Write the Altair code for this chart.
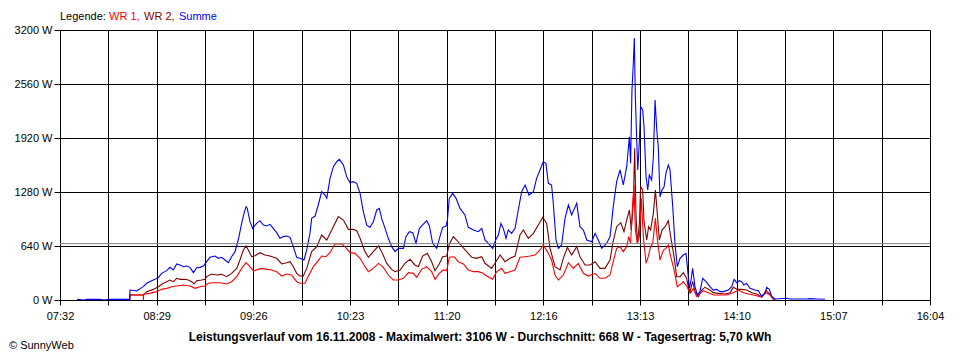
import json
import altair as alt
import pandas as pd

# ---------------- data (time in minutes after midnight, power in W) ----------------
SUMME = [(462,8),(466,0),(468,8),(475,8),(478,0),(481,8),(490.3,8),(493.0,8),(493.2,118),(497.1,107),(501.0,158),(503.0,198),(506.9,237),(509.9,265),(511.8,316),(514.8,348),(516.7,387),(518.7,356),(520.7,427),(522.6,415),(524.6,395),(526.5,403),(528.5,387),(530.5,324),(532.4,383),(534.4,387),(536.4,403),(538.3,454),(540.3,506),(543.2,521),(545.2,494),(547.1,506),(549.1,474),(551.1,442),(553.0,513),(555.0,573),(556.9,711),(558.9,908),(560.3,1027),(561.5,1106),(562.2,1086),(563.8,928),(565.4,849),(567.7,908),(569.7,940),(571.7,889),(573.6,877),(575.6,897),(577.5,849),(579.5,798),(581.5,731),(583.4,751),(585.4,758),(587.4,743),(589.3,632),(591.3,506),(593.2,494),(595.6,474),(597.2,593),(599.1,790),(600.1,968),(602.1,995),(604.0,1126),(606.0,1284),(608.0,1244),(609.0,1205),(610.9,1442),(612.9,1580),(614.8,1639),(616.4,1667),(618.8,1600),(620.7,1462),(622.7,1390),(624.6,1402),(626.6,1383),(628.6,1264),(630.5,1047),(632.5,889),(634.4,861),(636.4,928),(638.4,1067),(639.9,1086),(641.3,968),(643.3,849),(645.2,731),(647.2,632),(649.2,573),(651.1,612),(654.1,612),(655.6,751),(657.6,810),(659.6,798),(661.5,672),(663.5,849),(665.4,889),(667.8,940),(669.4,877),(671.3,672),(673.7,612),(675.6,751),(677.2,861),(679.2,877),(680.0,948),(681.1,1205),(683.1,1264),(685.1,1205),(687.4,1086),(690.3,1007),(692.3,861),(695.3,830),(698.2,810),(700.2,849),(702.1,711),(704.1,672),(706.6,612),(708.6,719),(710.0,770),(711.5,908),(712.9,849),(714.5,731),(715.8,830),(717.8,790),(719.8,849),(721.7,1067),(723.7,1284),(725.7,1363),(728.0,1244),(730.6,1284),(732.5,1442),(734.5,1541),(736.4,1639),(738.0,1620),(739.4,1383),(741.3,1363),(742.3,1146),(743.9,711),(745.3,612),(747.2,652),(749.2,968),(751.2,1126),(753.1,1007),(756.1,1146),(758.0,869),(760.0,830),(762.0,711),(764.9,691),(766.9,790),(768.8,711),(770.8,612),(771.8,632),(773.7,672),(775.7,750),(777.6,1106),(779.6,1402),(781.6,1541),(783.5,1363),(785.5,1580),(787.1,1935),(787.8,1620),(788.6,2489),(789.4,2804),(790.0,3106),(790.6,2410),(791.4,1896),(792.0,1541),(793.0,1896),(793.7,2291),(794.9,2252),(795.7,2054),(796.9,1462),(797.9,1304),(798.8,1481),(800.2,1422),(801.2,1698),(802.2,2370),(803.2,2014),(804.1,1817),(805.1,1224),(806.3,1304),(807.5,1343),(808.6,1501),(810.0,1600),(811.0,1541),(812.6,1106),(813.9,672),(815.3,395),(816.9,494),(818.8,533),(820.4,553),(821.2,395),(822.4,138),(823.4,237),(824.3,375),(825.7,158),(827.1,59),(828.6,99),(830.2,257),(832.2,217),(834.5,158),(836.5,118),(838.5,126),(840.4,99),(842.4,99),(845.3,118),(847.3,158),(848.7,245),(850.2,205),(851.8,229),(853.2,217),(854.5,178),(856.1,197),(858.1,138),(861.0,118),(863.0,111),(864.9,40),(866.9,79),(867.9,150),(869.5,126),(870.8,40),(872.8,12),(879.7,20),(881.6,12),(891.4,12),(893.4,16),(897.3,12),(902.2,8)]

WR2 = [(493.0,0),(493.2,59),(501.0,59),(503.0,99),(506.9,126),(509.9,158),(512.8,198),(514.8,217),(516.7,237),(518.7,217),(520.7,257),(522.6,245),(525.6,245),(527.5,237),(529.5,217),(530.9,190),(532.4,229),(535.4,237),(537.3,245),(538.3,277),(541.3,308),(544.2,296),(547.1,304),(550.1,277),(553.0,316),(556.0,375),(557.9,474),(559.9,593),(561.5,640),(562.8,593),(564.8,513),(566.8,525),(569.7,561),(572.6,533),(575.6,521),(579.5,494),(582.5,427),(585.4,442),(587.4,454),(589.3,395),(591.3,316),(593.2,284),(595.2,284),(597.2,375),(600.1,573),(603.1,632),(606.0,770),(609.0,711),(611.9,830),(615.8,988),(618.8,948),(621.7,837),(624.6,837),(626.6,822),(628.6,731),(631.5,573),(633.5,506),(636.4,573),(639.4,640),(641.3,573),(644.3,434),(647.2,363),(649.2,336),(652.1,355),(655.0,434),(658.0,482),(660.9,415),(662.9,395),(665.4,521),(668.2,553),(670.7,454),(672.7,348),(675.2,427),(677.2,513),(679.6,521),(681.1,664),(683.5,751),(685.4,711),(688.4,640),(691.3,573),(694.3,506),(697.2,494),(700.2,513),(702.1,435),(706.0,375),(708.0,435),(711.0,533),(713.9,454),(716.8,494),(719.8,521),(722.7,770),(724.7,830),(727.6,731),(730.6,790),(733.5,889),(736.1,980),(738.4,908),(740.4,612),(743.3,395),(746.3,356),(748.2,494),(750.6,624),(753.1,533),(756.1,632),(758.0,513),(761.0,415),(763.9,415),(766.9,454),(769.8,375),(772.7,375),(775.7,474),(777.3,672),(779.6,869),(782.0,916),(783.9,810),(785.5,948),(787.1,1067),(788.2,829),(789.4,1146),(790.2,1797),(791.0,988),(791.8,672),(793.0,908),(793.7,1343),(794.9,1304),(795.7,928),(797.3,711),(798.4,869),(799.6,829),(801.2,1027),(802.4,1304),(803.2,1106),(804.7,711),(806.3,829),(808.1,869),(810.0,940),(811.4,750),(813.4,514),(814.9,276),(816.9,276),(818.8,324),(820.8,257),(821.8,150),(822.8,99),(824.3,217),(825.7,99),(827.7,40),(829.6,118),(831.6,150),(834.5,118),(836.5,87),(839.4,79),(843.4,71),(846.3,87),(848.3,150),(850.6,126),(853.2,126),(856.1,118),(859.1,87),(862.0,71),(865.0,32),(867.5,111),(869.8,71),(871.8,20),(872.8,0)]

WR1 = [(493.0,0),(493.2,59),(501.0,59),(501.1,0),(501.3,71),(505.0,79),(508.9,99),(511.8,126),(514.8,138),(517.7,158),(520.7,166),(524.6,178),(528.5,166),(531.5,138),(534.4,158),(537.3,166),(539.3,198),(542.2,205),(546.2,205),(550.1,190),(553.0,217),(556.0,277),(558.9,375),(561.5,442),(562.8,415),(565.8,344),(568.7,363),(570.7,375),(573.6,363),(576.6,356),(579.5,336),(582.5,284),(585.4,308),(588.3,296),(591.3,217),(593.2,198),(596.2,198),(598.2,284),(601.1,395),(604.0,466),(606.0,521),(608.5,513),(610.9,561),(613.8,664),(617.8,664),(619.7,632),(622.7,561),(625.6,553),(628.6,494),(631.5,395),(633.5,336),(636.4,375),(639.4,434),(642.3,387),(645.2,296),(648.2,237),(651.1,237),(654.1,257),(657.0,324),(660.0,316),(661.9,269),(664.8,363),(667.8,395),(670.7,336),(672.7,245),(675.2,316),(677.6,356),(679.6,348),(681.1,506),(683.9,513),(686.4,454),(689.4,427),(692.3,356),(695.3,336),(698.2,336),(701.1,316),(702.1,296),(706.6,245),(709.0,336),(711.9,375),(713.9,316),(716.8,336),(719.8,356),(722.7,506),(725.7,513),(728.6,521),(731.5,533),(734.5,593),(736.4,652),(739.4,553),(741.3,474),(743.3,296),(745.3,237),(748.2,296),(751.2,442),(754.1,375),(757.0,434),(760.0,316),(762.9,284),(766.9,316),(769.8,257),(772.7,257),(775.7,296),(777.3,435),(779.6,612),(781.6,632),(783.5,573),(785.5,632),(786.7,750),(787.8,672),(789.0,1146),(789.8,1363),(790.6,829),(791.8,672),(793.0,750),(794.1,1205),(795.3,750),(796.9,435),(798.2,514),(799.6,632),(800.8,672),(802.4,968),(803.5,731),(805.1,474),(807.1,592),(808.6,612),(810.0,652),(811.4,514),(813.4,356),(815.3,158),(817.9,197),(818.8,217),(820.8,166),(822.8,79),(824.7,138),(826.7,40),(828.7,79),(830.6,111),(833.6,87),(836.5,59),(840.4,59),(844.3,59),(848.3,87),(851.2,118),(854.2,87),(857.1,71),(860.0,59),(864.0,40),(867.5,87),(869.8,59),(871.8,8),(872.8,0)]

AVERAGE_W = 668
Y_TICKS = [0, 640, 1280, 1920, 2560, 3200]
X_LABELS = ["07:32", "08:29", "09:26", "10:23", "11:20", "12:16", "13:13", "14:10", "15:07", "16:04"]
X_START, X_END = 452, 964          # 07:32 .. 16:04 in minutes
LEGEND_TEXT = ["Legende:", "WR 1,", "WR 2,", "Summe"]
LEGEND_COLORS = ["#000000", "#FF0000", "#800000", "#0000FF"]
TITLE = "Leistungsverlauf vom 16.11.2008 - Maximalwert: 3106 W - Durchschnitt: 668 W - Tagesertrag: 5,70 kWh"
COPYRIGHT = "\u00a9 SunnyWeb"

FONT = "Liberation Sans"
W, H = 870, 270

# ---------------- axes ----------------
n_int = 2 * (len(X_LABELS) - 1)
step = (X_END - X_START) / n_int
tick_vals = [X_START + k * step for k in range(n_int + 1)]
all_labels = [X_LABELS[k // 2] if k % 2 == 0 else "" for k in range(n_int + 1)]
label_expr = json.dumps(all_labels) + f"[round((datum.value - {X_START}) / {step})]"

x_scale = alt.Scale(domain=[X_START, X_END], nice=False, zero=False)
y_scale = alt.Scale(domain=[0, 3200], nice=False)

x_axis = alt.Axis(values=tick_vals, labelExpr=label_expr, grid=True, gridColor="black",
                  gridOpacity=1, gridWidth=1, domainColor="black", domainWidth=1,
                  tickColor="black", tickSize=5, tickWidth=1, labelFont=FONT,
                  labelFontSize=11, labelColor="black", labelPadding=5, title=None,
                  labelOverlap=False, labelFlush=False)
y_axis = alt.Axis(values=Y_TICKS, labelExpr="datum.value + ' W'", grid=True,
                  gridColor="black", gridOpacity=1, gridWidth=1, domainColor="black",
                  tickColor="black", tickSize=6, labelFont=FONT, labelFontSize=11,
                  labelColor="black", labelPadding=2, title=None, labelOverlap=False)


def series_df(pairs):
    return pd.DataFrame(pairs, columns=["t", "w"])


def line_layer(pairs, color):
    return alt.Chart(series_df(pairs)).mark_line(
        color=color, strokeWidth=1.1, clip=True
    ).encode(
        x=alt.X("t:Q", scale=x_scale, axis=x_axis),
        y=alt.Y("w:Q", scale=y_scale, axis=y_axis),
    )


avg = alt.Chart(pd.DataFrame({"w": [AVERAGE_W]})).mark_rule(
    color="#808080", strokeWidth=1
).encode(y=alt.Y("w:Q", scale=y_scale, axis=y_axis))

layers = [line_layer(WR2, "#800000"), line_layer(WR1, "#FF0000"),
          line_layer(SUMME, "#0000FF"), avg]

# legend text (multi coloured)
leg_x = [0, 49, 84, 119]
for txt, col, xx in zip(LEGEND_TEXT, LEGEND_COLORS, leg_x):
    layers.append(
        alt.Chart(pd.DataFrame({"s": [txt]})).mark_text(
            align="left", baseline="alphabetic", font=FONT, fontSize=11, color=col
        ).encode(x=alt.value(xx), y=alt.value(-10), text="s:N")
    )

layers.append(
    alt.Chart(pd.DataFrame({"s": [TITLE]})).mark_text(
        align="center", baseline="alphabetic", font=FONT, fontSize=12,
        fontWeight="bold", color="black"
    ).encode(x=alt.value(420), y=alt.value(311), text="s:N")
)
layers.append(
    alt.Chart(pd.DataFrame({"s": [COPYRIGHT]})).mark_text(
        align="left", baseline="alphabetic", font=FONT, fontSize=11, color="black"
    ).encode(x=alt.value(-51), y=alt.value(319), text="s:N")
)

chart = alt.layer(*layers).properties(
    width=W, height=H,
    autosize=alt.AutoSizeParams(type="none"),
    padding={"left": 52, "top": 22, "right": 22, "bottom": 58},
    background="white",
).configure_view(stroke=None)

chart.save("out.html", embed_options={"renderer": "svg", "actions": False})
